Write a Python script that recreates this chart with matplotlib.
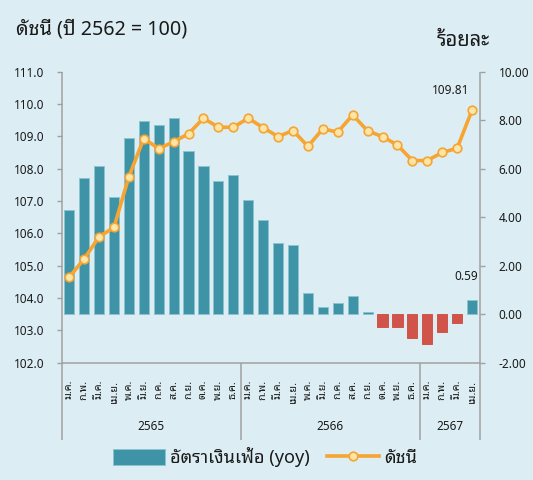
import matplotlib
matplotlib.use("Agg")
import matplotlib.pyplot as plt
from matplotlib import font_manager as fm
from matplotlib.transforms import blended_transform_factory

# ---------------- data ----------------
months = ["ม.ค.", "ก.พ.", "มี.ค.", "เม.ย.", "พ.ค.", "มิ.ย.",
          "ก.ค.", "ส.ค.", "ก.ย.", "ต.ค.", "พ.ย.", "ธ.ค."]
month_labels = months + months + months[:4]
years = ["2565", "2566", "2567"]
year_counts = [12, 12, 4]

inflation_yoy = [4.28, 5.61, 6.10, 4.83, 7.27, 7.97, 7.80, 8.10, 6.74, 6.10, 5.50, 5.73,
                 4.70, 3.87, 2.93, 2.84, 0.87, 0.29, 0.47, 0.74, 0.07, -0.54, -0.54, -0.98,
                 -1.24, -0.74, -0.37, 0.59]
index_values = [104.64, 105.20, 105.89, 106.18, 107.75, 108.93, 108.62, 108.83, 109.08,
                109.56, 109.28, 109.28, 109.56, 109.27, 108.99, 109.18, 108.69, 109.23,
                109.13, 109.66, 109.17, 108.99, 108.73, 108.25, 108.25, 108.50, 108.63,
                109.81]
left_ticks = [102.0, 103.0, 104.0, 105.0, 106.0, 107.0, 108.0, 109.0, 110.0, 111.0]
right_ticks = [-2.0, 0.0, 2.0, 4.0, 6.0, 8.0, 10.0]

title_left = "ดัชนี (ปี 2562 = 100)"
title_right = "ร้อยละ"
legend_bar = "อัตราเงินเฟ้อ (yoy)"
legend_line = "ดัชนี"

# ---------------- style ----------------
BG = "#DCEEF4"
TEAL = "#3F93A6"
TEAL_EDGE = "#8CC4D1"
RED = "#D0544A"
ORANGE = "#F6A432"
MARKER_FACE = "#FCE5A8"
GRAY = "#A0A0A0"
TXT = "#1A1A1A"

avail = {f.name for f in fm.fontManager.ttflist}
thai = next((n for n in ["Noto Sans Thai Looped", "IBM Plex Sans Thai Looped",
                         "Sarabun", "Kanit"] if n in avail), "DejaVu Sans")
latin = "Noto Sans" if "Noto Sans" in avail else "DejaVu Sans"
FAM = [latin, thai, "DejaVu Sans"]
plt.rcParams["font.family"] = FAM

W_PX, H_PX = 533, 480
fig = plt.figure(figsize=(W_PX / 100, H_PX / 100), dpi=100, facecolor=BG)

x0, x1 = 61.7, 479.5
y0, y1 = 71.7, 362.5
ax = fig.add_axes([x0 / W_PX, 1 - y1 / H_PX, (x1 - x0) / W_PX, (y1 - y0) / H_PX])
ax2 = ax.twinx()
ax.set_zorder(ax2.get_zorder() + 1)
ax.patch.set_visible(False)
ax2.patch.set_visible(False)

n = len(inflation_yoy)
xs = list(range(n))

# bars (right axis)
colors = [TEAL if v >= 0 else RED for v in inflation_yoy]
edges = [TEAL_EDGE if v >= 0 else RED for v in inflation_yoy]
bars = ax2.bar(xs, inflation_yoy, width=0.68, color=colors, edgecolor=edges,
               linewidth=0.7, zorder=2)

# line (left axis)
line, = ax.plot(xs, index_values, color=ORANGE, lw=2.6, marker="o", ms=6.2,
                mfc=MARKER_FACE, mec=ORANGE, mew=1.2, zorder=3)

ax.set_xlim(-0.5, n - 0.5)
ax.set_ylim(102, 111)
ax2.set_ylim(-2, 10)
ax.set_yticks(left_ticks)
ax.set_yticklabels([f"{v:.1f}" for v in left_ticks])
ax2.set_yticks(right_ticks)
ax2.set_yticklabels([f"{v:.2f}" for v in right_ticks])

for a in (ax, ax2):
    for s in a.spines.values():
        s.set_visible(False)

ax.tick_params(axis="y", direction="out", length=3.3, width=1.0, color=GRAY,
               pad=9.4, labelsize=8.5, labelcolor=TXT)
ax2.tick_params(axis="y", direction="out", length=3.3, width=1.0, color=GRAY,
                pad=10.6, labelsize=8.5, labelcolor=TXT)

ax.set_xticks(xs)
ax.set_xticklabels(month_labels, rotation=90, fontsize=7.8, color=TXT,
                   family=[thai, "DejaVu Sans"])
ax.tick_params(axis="x", length=0, pad=12.5)

# axis frame lines (extended below into the category area)
ext = -(440 - y1) / (y1 - y0)
lk = dict(color=GRAY, lw=1.1, clip_on=False, zorder=5, solid_capstyle="butt")
ax.plot([0, 0], [1, ext], transform=ax.transAxes, **lk)
ax.plot([1, 1], [1, ext], transform=ax.transAxes, **lk)
ax.plot([0, 1], [0, 0], transform=ax.transAxes, **lk)
bt = blended_transform_factory(ax.transData, ax.transAxes)
pos = -0.5
year_y = -(426.7 - y1) / (y1 - y0)
for yr, c in zip(years, year_counts):
    ax.text(pos + c / 2, year_y, yr, transform=bt, ha="center", va="center",
            fontsize=8.5, color=TXT)
    pos += c
    if pos < n - 0.5:
        ax.plot([pos, pos], [0, ext], transform=bt, **lk)

# value labels
ax.annotate(f"{index_values[-1]:.2f}", xy=(xs[-1], index_values[-1]),
            xytext=(-15.3, 14.2), textcoords="offset points", ha="center",
            va="center", fontsize=8.5, color=TXT)
ax2.annotate(f"{inflation_yoy[-1]:.2f}", xy=(xs[-1], inflation_yoy[-1]),
             xytext=(-4.2, 17), textcoords="offset points", ha="center",
             va="center", fontsize=8.5, color=TXT)

# titles
fig.text(16 / W_PX, 1 - 35 / H_PX, title_left, ha="left", va="baseline",
         fontsize=14.2, fontweight="semibold", color=TXT)
fig.text(437 / W_PX, 1 - 46 / H_PX, title_right, ha="left", va="baseline",
         fontsize=14.5, fontweight="semibold", color=TXT)

# legend
fig.legend([bars, line], [legend_bar, legend_line], loc="center",
           bbox_to_anchor=(265 / W_PX, 1 - 457 / H_PX), ncol=2, frameon=False,
           fontsize=13, handlelength=2.9, handleheight=1.0, handletextpad=0.3,
           columnspacing=0.9, numpoints=1, labelcolor=TXT)

fig.savefig("out.png", dpi=100, facecolor=BG)
